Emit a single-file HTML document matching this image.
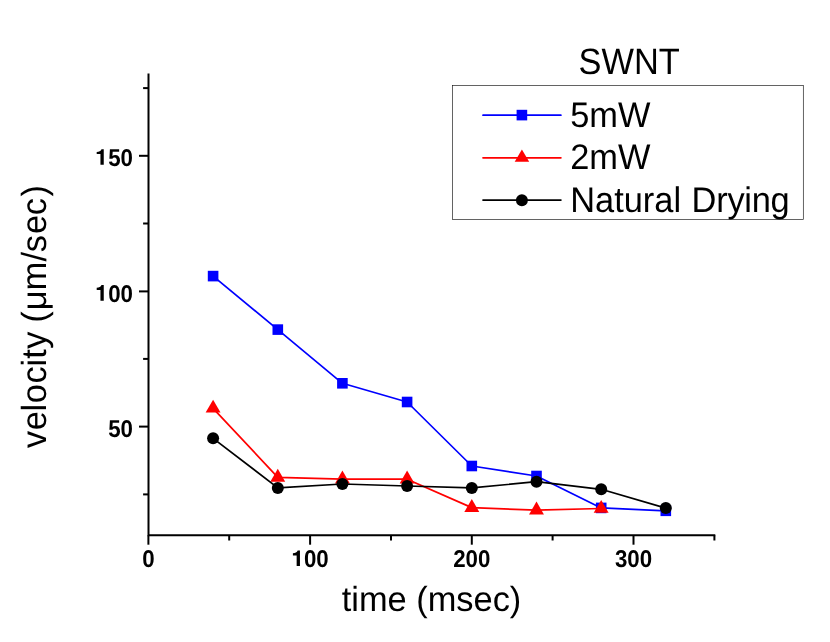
<!DOCTYPE html>
<html><head><meta charset="utf-8"><title>chart</title>
<style>
html,body{margin:0;padding:0;background:#fff;}
body{width:830px;height:642px;overflow:hidden;font-family:"Liberation Sans",sans-serif;}
svg{display:block;will-change:transform;}
text{text-rendering:geometricPrecision;font-family:"Liberation Sans",sans-serif;fill:#000;}
.tk{font-weight:bold;font-size:22.3px;}
.lb{font-size:34.4px;}
</style></head><body>
<svg width="830" height="642" viewBox="0 0 830 642">
<rect width="830" height="642" fill="#fff"/>

<g stroke="#000" stroke-width="2" fill="none" stroke-linecap="butt">
<path d="M148.5 73.4 V536.3 M148.3 535.3 H715.3"/>
<path d="M148.5 155.8 H139"/>
<path d="M148.5 291.4 H139"/>
<path d="M148.5 426.6 H139"/>
<path d="M148.5 88.1 H143.1"/>
<path d="M148.5 223.5 H143.1"/>
<path d="M148.5 358.9 H143.1"/>
<path d="M148.5 494.4 H143.1"/>
<path d="M148.4 535.3 V544.7"/>
<path d="M310.1 535.3 V544.7"/>
<path d="M471.8 535.3 V544.7"/>
<path d="M633.5 535.3 V544.7"/>
<path d="M229.2 535.3 V540.5"/>
<path d="M391.0 535.3 V540.5"/>
<path d="M552.6 535.3 V540.5"/>
<path d="M714.4 535.3 V540.5"/>
</g>
<path d="M103.75 149.20 V164.80 H100.45 V154.10 H96.70 V151.90 Q100.40 151.90 101.50 149.20 Z" fill="#000"/><text class="tk" transform="translate(133.00,165.7) scale(1,1.09)" text-anchor="end">50</text>
<path d="M103.75 285.10 V300.70 H100.45 V290.00 H96.70 V287.80 Q100.40 287.80 101.50 285.10 Z" fill="#000"/><text class="tk" transform="translate(133.00,301.6) scale(1,1.09)" text-anchor="end">00</text>
<text class="tk" transform="translate(133.00,436.9) scale(1,1.09)" text-anchor="end">50</text>
<text class="tk" transform="translate(154.60,567.0) scale(1,1.09)" text-anchor="end">0</text>
<path d="M299.95 550.50 V566.10 H296.65 V555.40 H292.90 V553.20 Q296.60 553.20 297.70 550.50 Z" fill="#000"/><text class="tk" transform="translate(328.70,567.0) scale(1,1.09)" text-anchor="end">00</text>
<text class="tk" transform="translate(490.40,567.0) scale(1,1.09)" text-anchor="end">200</text>
<text class="tk" transform="translate(652.10,567.0) scale(1,1.09)" text-anchor="end">300</text>
<text class="lb" transform="translate(431.5,611.0) scale(1,1.015)" text-anchor="middle">time (msec)</text>
<text class="lb" transform="translate(46.4,0) rotate(-90) scale(1,1.015)" x="-448.00 -430.30 -411.45 -403.20 -383.60 -366.60 -358.80 -348.80 -332.00 -322.70 -310.35 -290.60 -261.45 -252.30 -234.00 -215.30 -196.60" y="0">velocity (μm/sec)</text>
<text class="lb" transform="translate(629.2,73.5) scale(1,1.065)" text-anchor="middle">SWNT</text>
<polyline points="213.1,276.1 277.8,329.6 342.4,383.3 407.1,402.0 471.8,466.0 536.5,476.0 601.2,507.9 665.8,510.8" fill="none" stroke="#0000ff" stroke-width="1.7" stroke-linejoin="round"/>
<rect x="207.8" y="270.8" width="10.6" height="10.6" fill="#0000ff"/>
<rect x="272.5" y="324.3" width="10.6" height="10.6" fill="#0000ff"/>
<rect x="337.1" y="378.0" width="10.6" height="10.6" fill="#0000ff"/>
<rect x="401.8" y="396.7" width="10.6" height="10.6" fill="#0000ff"/>
<rect x="466.5" y="460.7" width="10.6" height="10.6" fill="#0000ff"/>
<rect x="531.2" y="470.7" width="10.6" height="10.6" fill="#0000ff"/>
<rect x="595.9" y="502.6" width="10.6" height="10.6" fill="#0000ff"/>
<rect x="660.5" y="505.5" width="10.6" height="10.6" fill="#0000ff"/>
<polyline points="213.1,408.3 277.8,477.4 342.4,479.2 407.1,479.2 471.8,507.6 536.5,510.2 601.2,508.5" fill="none" stroke="#ff0000" stroke-width="1.7" stroke-linejoin="round"/>
<path d="M213.1 399.7 L220.53 412.6 L205.63 412.6 Z" fill="#ff0000"/>
<path d="M277.8 468.8 L285.21 481.7 L270.31 481.7 Z" fill="#ff0000"/>
<path d="M342.4 470.6 L349.89 483.5 L334.99 483.5 Z" fill="#ff0000"/>
<path d="M407.1 470.6 L414.57 483.5 L399.67 483.5 Z" fill="#ff0000"/>
<path d="M471.8 499.0 L479.25 511.9 L464.35 511.9 Z" fill="#ff0000"/>
<path d="M536.5 501.6 L543.93 514.5 L529.03 514.5 Z" fill="#ff0000"/>
<path d="M601.2 499.9 L608.61 512.8 L593.71 512.8 Z" fill="#ff0000"/>
<polyline points="213.1,438.3 277.8,487.9 342.4,484.0 407.1,486.0 471.8,487.9 536.5,481.7 601.2,489.3 665.8,508.1" fill="none" stroke="#000" stroke-width="1.7" stroke-linejoin="round"/>
<circle cx="213.1" cy="438.3" r="6" fill="#000"/>
<circle cx="277.8" cy="487.9" r="6" fill="#000"/>
<circle cx="342.4" cy="484.0" r="6" fill="#000"/>
<circle cx="407.1" cy="486.0" r="6" fill="#000"/>
<circle cx="471.8" cy="487.9" r="6" fill="#000"/>
<circle cx="536.5" cy="481.7" r="6" fill="#000"/>
<circle cx="601.2" cy="489.3" r="6" fill="#000"/>
<circle cx="665.8" cy="508.1" r="6" fill="#000"/>
<rect x="452.5" y="85.5" width="350.8" height="134" fill="#fff" stroke="#111" stroke-width="0.65"/>
<path d="M483.0 115.2 H560.9" stroke="#0000ff" stroke-width="1.7" stroke-linecap="round"/>
<rect x="516.6" y="109.8" width="10.6" height="10.6" fill="#0000ff"/>
<path d="M483.0 157.8 H560.9" stroke="#ff0000" stroke-width="1.7" stroke-linecap="round"/>
<path d="M521.9 149.6 L529.2 161.7 L514.7 161.7 Z" fill="#ff0000"/>
<path d="M483.0 200.1 H560.9" stroke="#000" stroke-width="1.7" stroke-linecap="round"/>
<circle cx="521.9" cy="200.2" r="6" fill="#000"/>
<text class="lb" transform="translate(570.2,126.9) scale(1,1.035)" text-anchor="start">5mW</text>
<text class="lb" transform="translate(570.2,169.4) scale(1,1.035)" text-anchor="start">2mW</text>
<text class="lb" transform="translate(570.2,212.0) scale(1,1.035)" text-anchor="start">Natural <tspan dx="1" letter-spacing="-0.25">Drying</tspan></text>
</svg></body></html>
